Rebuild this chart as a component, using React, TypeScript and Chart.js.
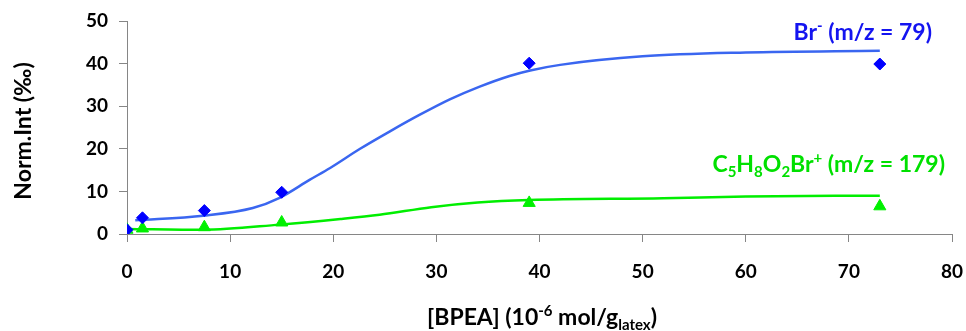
import React, { useEffect, useRef } from "react";
import { Chart, registerables } from "chart.js";
Chart.register(...registerables);

const bpeaX = [0, 1.5, 7.5, 15, 39, 73];
const brValues = [1.0, 3.8, 5.5, 9.8, 40.1, 39.9];
const c5Values = [1.0, 1.3, 1.6, 2.7, 7.3, 6.5];
const brFitX = [0.8, 7.4, 12.2, 14.8, 17.7, 19.7, 22.6, 25.5, 28.4, 31.3, 34.2, 37.1, 39.1, 42, 50, 60, 73];
const brFitY = [3.2, 4.3, 6.1, 8.5, 12.7, 15.5, 20.0, 24.1, 28.0, 31.6, 34.6, 37.1, 38.4, 39.7, 41.7, 42.6, 43];
const c5FitX = [0, 7.4, 14.8, 20.7, 24.5, 29.5, 34, 39, 52, 60, 73];
const c5FitY = [1.2, 1.0, 2.2, 3.5, 4.5, 6.3, 7.4, 8.0, 8.4, 8.8, 9.0];
const xMin = 0, xMax = 80, xStep = 10;
const yMin = 0, yMax = 50, yStep = 10;
const yTitle = "Norm.Int (‰)";
const xTitleParts: [string, string][] = [["[BPEA] (10", "n"], ["-6", "sup"], [" mol/g", "n"], ["latex", "sub"], [")", "n"]];
const brLabelParts: [string, string][] = [["Br", "n"], ["-", "sup"], [" (m/z = 79)", "n"]];
const c5LabelParts: [string, string][] = [["C", "n"], ["5", "sub"], ["H", "n"], ["8", "sub"], ["O", "n"], ["2", "sub"], ["Br", "n"], ["+", "sup"], [" (m/z = 179)", "n"]];

const FONT = "Lato, 'Noto Sans', sans-serif";
const WEIGHT = "bold";
const AXIS_GRAY = "#868686";
const BLUE_MARK = "#0000ff";
const BLUE_LINE = "#3a66f0";
const BLUE_TEXT = "#1414f0";
const GREEN_MARK = "#00f000";
const GREEN_LINE = "#00ee00";
const GREEN_TEXT = "#00e000";

function drawRich(ctx: CanvasRenderingContext2D, parts: [string, string][], x: number, y: number, align: string, size: number, color: string) {
  const small = Math.round(size * 0.65);
  const fontFor = (k: string) => `${WEIGHT} ${k === "n" ? size : small}px ${FONT}`;
  let total = 0;
  for (const [t, k] of parts) { ctx.font = fontFor(k); total += ctx.measureText(t).width; }
  let cx = align === "right" ? x - total : align === "center" ? x - total / 2 : x;
  ctx.fillStyle = color;
  ctx.textBaseline = "alphabetic";
  ctx.textAlign = "left";
  for (const [t, k] of parts) {
    ctx.font = fontFor(k);
    const dy = k === "sup" ? -size * 0.38 : k === "sub" ? size * 0.22 : 0;
    ctx.fillText(t, cx, y + dy);
    cx += ctx.measureText(t).width;
  }
}

const textPlugin = {
  id: "richText",
  afterDraw(chart: any) {
    const ctx = chart.ctx as CanvasRenderingContext2D;
    ctx.save();
    drawRich(ctx, xTitleParts, 542, 325, "center", 23, "#000");
    drawRich(ctx, brLabelParts, 932, 40, "right", 23, BLUE_TEXT);
    drawRich(ctx, c5LabelParts, 945, 172, "right", 23, GREEN_TEXT);
    ctx.translate(24, 131);
    ctx.rotate(-Math.PI / 2);
    ctx.font = `${WEIGHT} 23px ${FONT}`;
    ctx.fillStyle = "#000";
    ctx.textAlign = "center";
    ctx.textBaseline = "middle";
    ctx.fillText(yTitle, 0, 0);
    ctx.restore();
  },
};

export default function App() {
  const ref = useRef<HTMLCanvasElement | null>(null);
  useEffect(() => {
    document.body.style.margin = "0";
    const pts = (xs: number[], ys: number[]) => xs.map((x, i) => ({ x, y: ys[i] }));
    const chart = new Chart(ref.current!, {
      type: "scatter",
      data: {
        datasets: [
          { label: "Br", data: pts(bpeaX, brValues), pointStyle: "rectRot", pointRadius: 6, backgroundColor: BLUE_MARK, borderColor: BLUE_MARK, order: 0 },
          { label: "C5", data: pts(bpeaX, c5Values), pointStyle: "triangle", pointRadius: 7, backgroundColor: GREEN_MARK, borderColor: GREEN_MARK, order: 0 },
          { label: "BrFit", data: pts(brFitX, brFitY), showLine: true, pointRadius: 0, borderColor: BLUE_LINE, borderWidth: 2.5, cubicInterpolationMode: "monotone", order: 1 } as any,
          { label: "C5Fit", data: pts(c5FitX, c5FitY), showLine: true, pointRadius: 0, borderColor: GREEN_LINE, borderWidth: 2.5, cubicInterpolationMode: "monotone", order: 1 } as any,
        ],
      },
      options: {
        animation: false,
        responsive: false,
        layout: { padding: { left: 0, right: 14, top: 21, bottom: 0 } },
        plugins: { legend: { display: false }, tooltip: { enabled: false } },
        scales: {
          x: {
            type: "linear", min: xMin, max: xMax,
            afterFit: (s: any) => { s.height = 97; s.paddingLeft = 0; s.paddingRight = 0; },
            border: { color: AXIS_GRAY, width: 1 },
            grid: { drawOnChartArea: false, drawTicks: true, tickLength: 8, color: AXIS_GRAY },
            ticks: { stepSize: xStep, padding: 18, color: "#000", font: { family: FONT, size: 19, weight: WEIGHT } },
          },
          y: {
            type: "linear", min: yMin, max: yMax,
            afterFit: (s: any) => { s.width = 127; s.paddingTop = 0; s.paddingBottom = 0; },
            border: { color: AXIS_GRAY, width: 1 },
            grid: { drawOnChartArea: false, drawTicks: true, tickLength: 8, color: AXIS_GRAY },
            ticks: { stepSize: yStep, padding: 11, color: "#000", font: { family: FONT, size: 19, weight: WEIGHT } },
          },
        },
      },
      plugins: [textPlugin],
    } as any);
    return () => chart.destroy();
  }, []);
  return (
    <div style={{ width: 966, height: 331 }}>
      <canvas ref={ref} width={966} height={331} style={{ display: "block" }} />
    </div>
  );
}
